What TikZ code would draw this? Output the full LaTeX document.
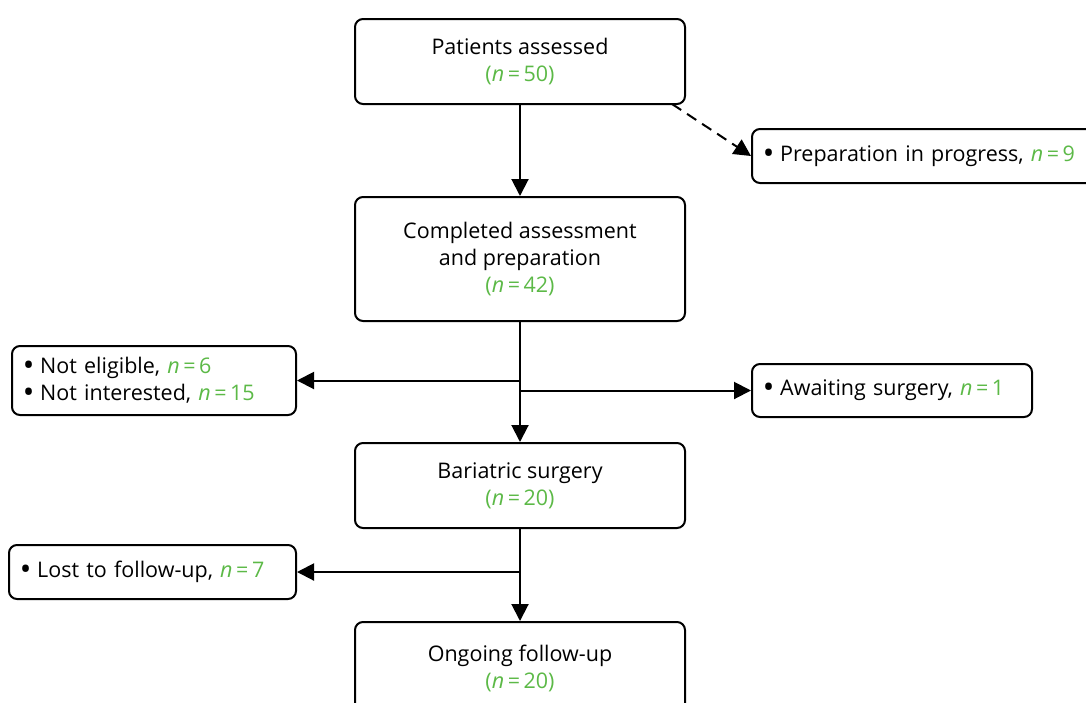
\documentclass[tikz,border=0pt]{standalone}
\usepackage{fontspec}
\setmainfont{Open Sans}
\usetikzlibrary{arrows.meta}
\definecolor{grn}{RGB}{92,185,71}
% green count: italic n, equals sign, value
\newcommand{\cnt}[1]{{\color{grn}\textit{n}\,=\,#1}}
% list bullet
\newcommand{\itm}{{\fontsize{24}{27}\selectfont\bfseries\textbullet}\ }
\begin{document}
\begin{tikzpicture}[x=1pt,y=-1pt,
  every node/.style={font=\fontsize{21.5}{27}\selectfont},
  mainbox/.style={draw, line width=2pt, rounded corners=8pt,
    minimum width=330pt, align=center, inner sep=0pt},
  sidebox/.style={draw, line width=2pt, rounded corners=8pt,
    align=left, inner xsep=12pt, inner ysep=0pt},
  flow/.style={line width=2pt, -{Triangle[length=17pt,width=17pt]}}]
\useasboundingbox (0,0) rectangle (1086,702);
\clip (0,0) rectangle (1086,702);

% main column
\node[mainbox, minimum height=85pt] (pa) at (520,61.5)
  {Patients assessed\\{\color{grn}(\textit{n}\,=\,50)}};
\node[mainbox, minimum height=124pt] (ca) at (520,259)
  {Completed assessment\\and preparation\\{\color{grn}(\textit{n}\,=\,42)}};
\node[mainbox, minimum height=85pt] (bs) at (520,485.5)
  {Bariatric surgery\\{\color{grn}(\textit{n}\,=\,20)}};
\node[mainbox, minimum height=92pt] (of) at (520,668)
  {Ongoing follow-up\\{\color{grn}(\textit{n}\,=\,20)}};

% side boxes
\node[sidebox, text width=335pt, minimum height=54pt, anchor=west] (pp) at (751,156)
  {\itm Preparation in progress, \cnt{9}};
\node[sidebox, text width=260pt, minimum height=69pt, anchor=east] (ne) at (297,380.5)
  {\itm Not eligible, \cnt{6}\\\itm Not interested, \cnt{15}};
\node[sidebox, text width=256pt, minimum height=53pt, anchor=west] (aw) at (751,390.5)
  {\itm Awaiting surgery, \cnt{1}};
\node[sidebox, text width=263pt, minimum height=54pt, anchor=east] (lf) at (297,572)
  {\itm Lost to follow-up, \cnt{7}};

% connectors
\coordinate (ds) at (672,104);
\draw[flow] (pa) -- (ca);
\draw[flow, dash pattern=on 11pt off 7pt] (ds) -- (pp.west);
\draw[flow] (ca) -- (bs);
\draw[flow] (ca.south |- ne.east) -- (ne.east);
\draw[flow] (ca.south |- aw.west) -- (aw.west);
\draw[flow] (bs) -- (of);
\draw[flow] (bs.south |- lf.east) -- (lf.east);
\end{tikzpicture}
\end{document}
